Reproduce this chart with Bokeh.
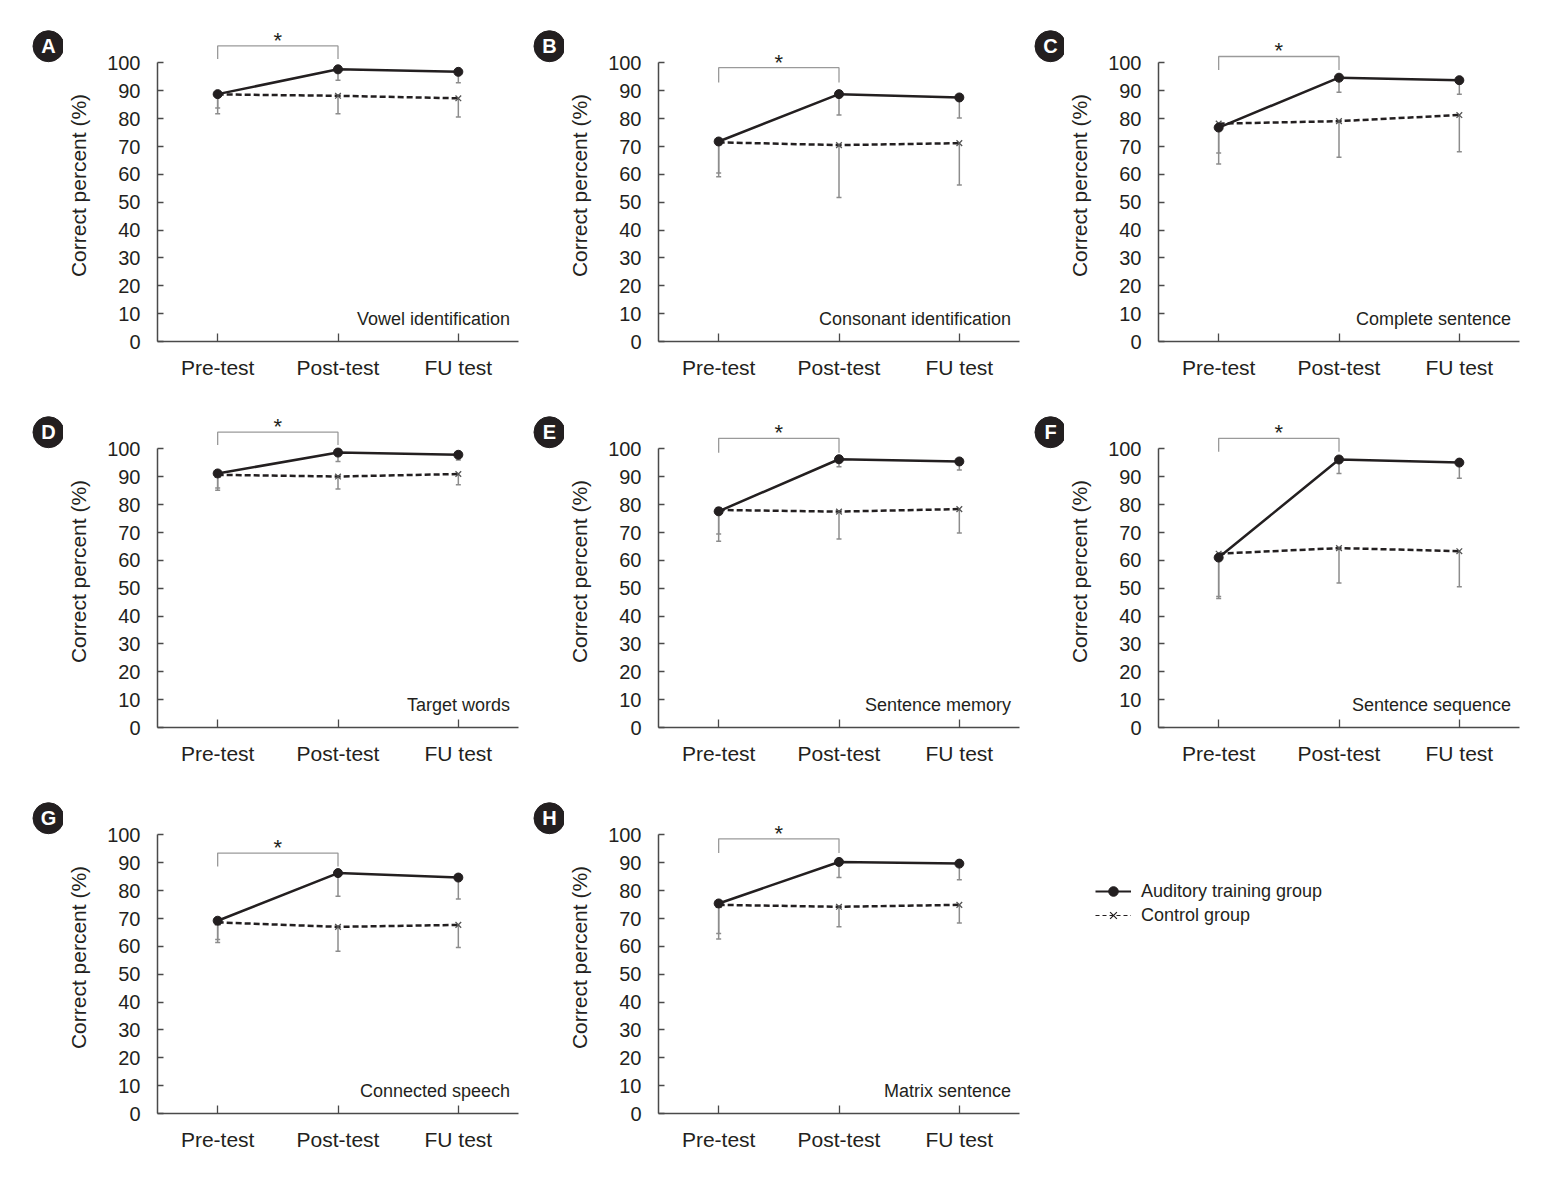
from bokeh.plotting import figure
from bokeh.layouts import column, row
from bokeh.models import (FixedTicker, Whisker, TeeHead, ColumnDataSource, Label,
                          Legend, LegendItem, Range1d)
from bokeh.core.properties import value
from bokeh.embed import file_html
from bokeh.resources import INLINE

phases = ["Pre-test", "Post-test", "FU test"]
letters = ["A", "B", "C", "D", "E", "F", "G", "H"]
titles = ["Vowel identification", "Consonant identification", "Complete sentence",
          "Target words", "Sentence memory", "Sentence sequence",
          "Connected speech", "Matrix sentence"]

# Auditory training group: means and lower error-bar ends
train_A = [88.8, 97.7, 96.8]; train_A_low = [83.8, 93.8, 92.9]
train_B = [71.8, 88.8, 87.6]; train_B_low = [60.5, 81.3, 80.2]
train_C = [76.8, 94.7, 93.8]; train_C_low = [67.7, 89.5, 88.8]
train_D = [91.2, 98.7, 97.9]; train_D_low = [86.0, 95.5, 96.0]
train_E = [77.6, 96.3, 95.5]; train_E_low = [69.5, 93.6, 92.4]
train_F = [61.0, 96.2, 95.1]; train_F_low = [47.0, 91.2, 89.5]
train_G = [69.2, 86.3, 84.7]; train_G_low = [62.5, 78.0, 77.0]
train_H = [75.4, 90.3, 89.7]; train_H_low = [64.6, 84.7, 83.9]

# Control group: means and lower error-bar ends
ctrl_A = [88.7, 88.2, 87.3]; ctrl_A_low = [81.8, 81.8, 80.6]
ctrl_B = [71.5, 70.5, 71.2]; ctrl_B_low = [59.1, 51.7, 56.2]
ctrl_C = [78.2, 79.1, 81.3]; ctrl_C_low = [63.7, 66.1, 68.1]
ctrl_D = [90.7, 90.1, 91.0]; ctrl_D_low = [85.2, 85.6, 87.1]
ctrl_E = [78.1, 77.5, 78.4]; ctrl_E_low = [66.9, 67.7, 69.8]
ctrl_F = [62.4, 64.4, 63.3]; ctrl_F_low = [46.3, 51.9, 50.5]
ctrl_G = [68.6, 67.0, 67.7]; ctrl_G_low = [61.4, 58.2, 59.6]
ctrl_H = [74.9, 74.2, 74.9]; ctrl_H_low = [62.6, 67.0, 68.4]

train = [train_A, train_B, train_C, train_D, train_E, train_F, train_G, train_H]
train_low = [train_A_low, train_B_low, train_C_low, train_D_low, train_E_low,
             train_F_low, train_G_low, train_H_low]
ctrl = [ctrl_A, ctrl_B, ctrl_C, ctrl_D, ctrl_E, ctrl_F, ctrl_G, ctrl_H]
ctrl_low = [ctrl_A_low, ctrl_B_low, ctrl_C_low, ctrl_D_low, ctrl_E_low,
            ctrl_F_low, ctrl_G_low, ctrl_H_low]

# significance bracket (Pre-test vs Post-test) heights
sig_top = [106.1, 98.3, 102.3, 106.0, 103.8, 103.8, 93.5, 98.6]
sig_leg = [101.4, 93.0, 97.5, 101.4, 98.6, 99.0, 88.7, 93.5]

FONT = "Liberation Sans"
INK = "#231f20"
AXIS = "#4a4a4a"
ERR = "#8c8c8c"

FRAME_W, FRAME_H = 361, 312
TOP, BOTTOM = 29, 45
YMAX = 112


def make_badge(i, width, cx):
    b = figure(frame_width=width, frame_height=FRAME_H, min_border_left=0,
               min_border_right=0, min_border_top=TOP, min_border_bottom=BOTTOM,
               x_range=Range1d(0, width), y_range=Range1d(0, YMAX),
               x_axis_type=None, y_axis_type=None,
               output_backend="svg", toolbar_location=None)
    b.outline_line_color = None
    b.grid.visible = False
    b.background_fill_color = None
    b.border_fill_color = None
    src = ColumnDataSource(dict(x=[cx], y=[106], t=[letters[i]]))
    b.scatter("x", "y", source=src, marker="circle", size=31, fill_color=INK,
              line_color=INK)
    b.text("x", "y", text="t", source=src, text_align="center",
           text_baseline="middle", text_font=value(FONT), text_font_style="bold",
           text_font_size="20px", text_color="white")
    return b


def make_panel(i):
    p = figure(frame_width=FRAME_W, frame_height=FRAME_H,
               min_border_left=94, min_border_right=10,
               min_border_top=TOP, min_border_bottom=BOTTOM,
               x_range=Range1d(-0.5, 2.5), y_range=Range1d(0, YMAX),
               output_backend="svg", toolbar_location=None)
    p.outline_line_color = None
    p.grid.visible = False
    p.background_fill_color = None
    p.border_fill_color = None

    xs = list(range(len(phases)))
    src = ColumnDataSource(dict(x=xs, tr=train[i], trl=train_low[i],
                                ct=ctrl[i], ctl=ctrl_low[i]))

    for up, lo in (("ct", "ctl"), ("tr", "trl")):
        w = Whisker(base="x", upper=up, lower=lo, source=src,
                    line_color=ERR, line_width=1.5, upper_head=None,
                    lower_head=TeeHead(size=5, line_color=ERR, line_width=1.5))
        p.add_layout(w)

    p.line("x", "ct", source=src, line_color=INK, line_width=2.5, line_dash="6 3")
    p.scatter("x", "ct", source=src, marker="x", size=8, line_color="#555555",
              line_width=1.3)
    p.line("x", "tr", source=src, line_color=INK, line_width=2.5)
    p.scatter("x", "tr", source=src, marker="circle", size=9, fill_color=INK,
              line_color=INK)

    # significance bracket between Pre-test and Post-test
    p.line([0, 0, 1, 1], [sig_leg[i], sig_top[i], sig_top[i], sig_leg[i]],
           line_color="#9a9a9a", line_width=1.3)
    p.add_layout(Label(x=0.5, y=sig_top[i] + 2.0, text="*", text_align="center",
                       text_baseline="middle", text_font=FONT,
                       text_font_size="22px", text_color=INK))

    # panel subtitle
    p.add_layout(Label(x=2.43, y=8.2, text=titles[i], text_align="right",
                       text_baseline="middle", text_font=FONT,
                       text_font_size="18px", text_color=INK))

    xa = p.xaxis[0]
    xa.ticker = FixedTicker(ticks=xs)
    xa.major_label_overrides = {k: v for k, v in zip(xs, phases)}
    xa.minor_tick_line_color = None
    xa.major_tick_in = 8
    xa.major_tick_out = 0
    xa.axis_line_color = AXIS
    xa.axis_line_width = 1.5
    xa.major_tick_line_color = AXIS
    xa.major_tick_line_width = 1.3
    xa.major_label_standoff = 14
    xa.major_label_text_font = FONT
    xa.major_label_text_font_size = "21px"
    xa.major_label_text_color = INK

    ya = p.yaxis[0]
    ya.ticker = FixedTicker(ticks=[0, 10, 20, 30, 40, 50, 60, 70, 80, 90, 100])
    ya.bounds = (0, 100)
    ya.minor_tick_line_color = None
    ya.major_tick_in = 6
    ya.major_tick_out = 0
    ya.axis_line_color = AXIS
    ya.axis_line_width = 1.5
    ya.major_tick_line_color = AXIS
    ya.major_tick_line_width = 1.3
    ya.major_label_standoff = 17
    ya.major_label_text_font = FONT
    ya.major_label_text_font_size = "20px"
    ya.major_label_text_color = INK
    ya.axis_label = "Correct percent (%)"
    ya.axis_label_text_font = FONT
    ya.axis_label_text_font_size = "21px"
    ya.axis_label_text_font_style = "normal"
    ya.axis_label_text_color = INK
    ya.axis_label_standoff = 14
    return p


badge_widths = [63, 36, 35]
badge_centers = [48, 21, 21]

cells = []
for i in range(8):
    c = i % 3
    cells.append([make_badge(i, badge_widths[c], badge_centers[c]), make_panel(i)])

# legend holder
lf = figure(frame_width=420, frame_height=FRAME_H, min_border_left=0, min_border_right=0,
            min_border_top=TOP, min_border_bottom=BOTTOM, x_axis_type=None,
            y_axis_type=None, x_range=Range1d(0, 1), y_range=Range1d(0, 1),
            output_backend="svg", toolbar_location=None)
lf.outline_line_color = None
lf.grid.visible = False
lf.background_fill_color = None
lf.border_fill_color = None
nan = float("nan")
l1 = lf.line(x=[nan], y=[nan], line_color=INK, line_width=2)
s1 = lf.scatter(x=[nan], y=[nan], marker="circle", size=12, fill_color=INK, line_color=INK)
l2 = lf.line(x=[nan], y=[nan], line_color=INK, line_width=1.2, line_dash="4 3")
s2 = lf.scatter(x=[nan], y=[nan], marker="x", size=12, line_color=INK, line_width=1.2)
legend = Legend(items=[LegendItem(label="Auditory training group", renderers=[l1, s1]),
                       LegendItem(label="Control group", renderers=[l2, s2])],
                location=(66, 186), label_text_font=FONT, label_text_font_size="18px",
                label_text_color=INK, glyph_width=36, glyph_height=24,
                label_standoff=10, spacing=0, padding=0, margin=0,
                border_line_color=None, background_fill_alpha=0)
lf.add_layout(legend)

layout = column(row(*cells[0], *cells[1], *cells[2]),
                row(*cells[3], *cells[4], *cells[5]),
                row(*cells[6], *cells[7], lf))

open("out.html", "w").write(file_html(layout, INLINE))
